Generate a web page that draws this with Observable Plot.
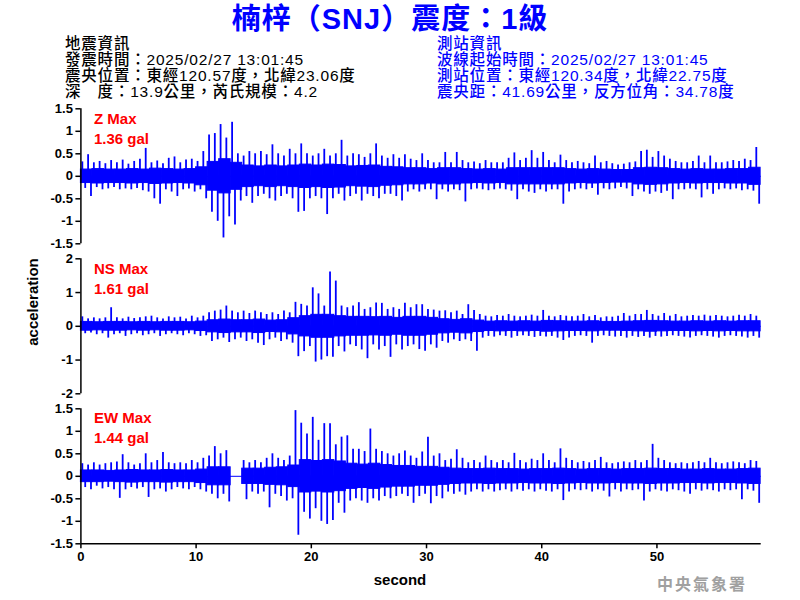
<!DOCTYPE html>
<html><head><meta charset="utf-8">
<script src="https://cdn.jsdelivr.net/npm/d3@7"></script>
<script src="https://cdn.jsdelivr.net/npm/@observablehq/plot@0.6"></script>
<style>
body{margin:0;background:#fff;}
#wrap{position:relative;width:800px;height:600px;overflow:hidden;font-family:"Liberation Sans","Noto Sans CJK TC",sans-serif;}
.t{position:absolute;white-space:nowrap;}
.h{position:absolute;white-space:nowrap;font-size:15.5px;line-height:16px;height:16px;letter-spacing:0.8px;font-weight:500;}
.panel{position:absolute;left:0;}
</style></head><body>
<div id="wrap">
<div class="t" style="left:0;width:780px;top:3px;height:32px;line-height:32px;text-align:center;font-size:29px;letter-spacing:1px;font-weight:bold;color:#0000ff;">楠梓（SNJ）震度：1級</div>
<div class="h" style="left:65px;top:36px;">地震資訊</div>
<div class="h" style="left:65px;top:52px;">發震時間：2025/02/27 13:01:45</div>
<div class="h" style="left:65px;top:68px;">震央位置：東經120.57度，北緯23.06度</div>
<div class="h" style="left:65px;top:84px;">深　度：13.9公里，芮氏規模：4.2</div>
<div class="h" style="left:437px;top:36px;color:#0000ff;">測站資訊</div>
<div class="h" style="left:437px;top:52px;color:#0000ff;">波線起始時間：2025/02/27 13:01:45</div>
<div class="h" style="left:437px;top:68px;color:#0000ff;">測站位置：東經120.34度，北緯22.75度</div>
<div class="h" style="left:437px;top:84px;color:#0000ff;">震央距：41.69公里，反方位角：34.78度</div>
<div class="t" style="left:32px;top:302px;font-size:15px;font-weight:bold;transform:translate(-50%,-50%) rotate(-90deg);">acceleration</div>
<div class="t" style="left:400px;top:571px;transform:translateX(-50%);font-size:15px;font-weight:bold;">second</div>
<div class="t" style="left:657px;top:571px;font-size:16px;font-weight:bold;color:#a0a0a0;letter-spacing:2px;font-family:'Noto Sans CJK TC',serif;">中央氣象署</div>
<div id="p0" class="panel" style="top:100px"></div>
<div id="p1" class="panel" style="top:250px"></div>
<div id="p2" class="panel" style="top:400px"></div>
<div class="t" style="left:94px;top:109px;font-size:15px;font-weight:bold;color:#ff0000;line-height:20px;">Z Max<br>1.36 gal</div>
<div class="t" style="left:94px;top:259px;font-size:15px;font-weight:bold;color:#ff0000;line-height:20px;">NS Max<br>1.61 gal</div>
<div class="t" style="left:94px;top:408px;font-size:15px;font-weight:bold;color:#ff0000;line-height:20px;">EW Max<br>1.44 gal</div>
</div>
<script>
// peak readings per 0.5 s bin (upper peak, lower peak), in gal
const binSeconds = 0.5;
const zHi = [0.32,0.48,0.3,0.33,0.28,0.35,0.3,0.36,0.27,0.33,0.38,0.62,0.3,0.34,0.28,0.4,0.43,0.3,0.36,0.38,0.33,
0.55,0.92,0.95,1.15,0.85,1.2,0.5,0.45,0.55,0.5,0.55,0.48,0.7,0.5,0.45,0.6,0.5,0.72,0.5,0.45,0.5,0.6,0.45,0.5,0.8,0.45,0.5,0.48,0.42,0.5,0.72,0.45,0.4,0.48,0.4,0.48,0.38,0.35,0.5,
0.35,0.3,0.3,0.53,0.3,0.53,0.35,0.3,0.32,0.28,0.35,0.3,0.3,0.3,0.4,0.52,0.35,0.4,0.57,0.4,0.53,0.35,0.3,0.47,0.35,0.3,0.33,0.3,0.28,0.45,0.3,0.33,0.28,0.25,0.27,0.3,0.32,0.55,0.58,0.42,0.55,0.45,0.38,0.33,0.3,0.3,0.33,0.45,0.3,0.45,0.3,0.3,0.32,0.35,0.33,0.38,0.35,0.64];
const zLo = [-0.27,-0.45,-0.25,-0.3,-0.28,-0.25,-0.3,-0.28,-0.3,-0.27,-0.32,-0.35,-0.5,-0.62,-0.3,-0.35,-0.45,-0.3,-0.28,-0.35,-0.3,
-0.5,-0.8,-1.0,-1.37,-0.9,-1.08,-0.55,-0.45,-0.6,-0.45,-0.4,-0.5,-0.55,-0.45,-0.4,-0.5,-0.8,-0.78,-0.5,-0.45,-0.5,-0.85,-0.5,-0.4,-0.55,-0.45,-0.4,-0.55,-0.4,-0.45,-0.5,-0.4,-0.4,-0.45,-0.55,-0.35,-0.3,-0.35,-0.3,
-0.3,-0.52,-0.3,-0.35,-0.3,-0.32,-0.57,-0.3,-0.28,-0.3,-0.32,-0.3,-0.28,-0.3,-0.33,-0.52,-0.3,-0.35,-0.38,-0.3,-0.35,-0.3,-0.3,-0.62,-0.35,-0.3,-0.28,-0.3,-0.27,-0.42,-0.28,-0.3,-0.28,-0.25,-0.28,-0.45,-0.3,-0.35,-0.4,-0.35,-0.38,-0.33,-0.52,-0.3,-0.3,-0.28,-0.3,-0.48,-0.3,-0.4,-0.3,-0.28,-0.3,-0.28,-0.32,-0.3,-0.33,-0.62];
const nsHi = [0.28,0.22,0.25,0.22,0.25,0.55,0.25,0.22,0.27,0.23,0.25,0.28,0.3,0.25,0.22,0.28,0.25,0.27,0.22,0.3,0.25,0.3,
0.4,0.45,0.48,0.6,0.45,0.4,0.45,0.38,0.45,0.4,0.35,0.4,0.35,0.45,0.4,0.71,0.65,0.6,1.14,0.96,0.6,1.61,1.34,0.6,0.55,0.6,0.7,0.5,0.55,0.69,0.68,0.5,0.55,0.5,0.68,0.55,0.64,0.64,
0.5,0.48,0.45,0.46,0.4,0.45,0.35,0.64,0.47,0.35,0.3,0.28,0.32,0.3,0.35,0.3,0.28,0.3,0.33,0.3,0.47,0.3,0.28,0.32,0.3,0.28,0.3,0.35,0.28,0.32,0.25,0.28,0.27,0.3,0.38,0.3,0.35,0.35,0.47,0.35,0.3,0.38,0.3,0.35,0.28,0.3,0.32,0.3,0.33,0.3,0.32,0.3,0.28,0.3,0.33,0.3,0.35,0.3];
const nsLo = [-0.22,-0.2,-0.25,-0.22,-0.35,-0.25,-0.22,-0.3,-0.25,-0.22,-0.28,-0.25,-0.22,-0.3,-0.25,-0.22,-0.25,-0.28,-0.22,-0.25,-0.3,-0.28,
-0.45,-0.4,-0.35,-0.48,-0.4,-0.35,-0.45,-0.4,-0.5,-0.57,-0.4,-0.35,-0.45,-0.4,-0.5,-0.9,-0.75,-0.6,-1.06,-1.0,-0.9,-0.92,-0.6,-0.76,-0.55,-0.6,-0.7,-0.96,-0.55,-0.7,-0.6,-0.92,-0.55,-0.7,-0.6,-0.55,-0.69,-0.74,
-0.55,-0.65,-0.45,-0.5,-0.4,-0.45,-0.4,-0.45,-0.74,-0.35,-0.3,-0.32,-0.28,-0.3,-0.35,-0.3,-0.28,-0.3,-0.33,-0.3,-0.32,-0.3,-0.35,-0.42,-0.35,-0.3,-0.28,-0.3,-0.5,-0.3,-0.28,-0.3,-0.32,-0.3,-0.35,-0.3,-0.33,-0.3,-0.35,-0.3,-0.32,-0.3,-0.28,-0.3,-0.32,-0.35,-0.3,-0.28,-0.3,-0.32,-0.35,-0.3,-0.28,-0.3,-0.32,-0.35,-0.3,-0.35];
const ewHi = [0.28,0.25,0.3,0.25,0.28,0.3,0.32,0.48,0.3,0.25,0.28,0.5,0.3,0.35,0.53,0.3,0.28,0.3,0.28,0.35,0.3,0.4,0.45,0.66,0.5,0.57,0,0,
0.35,0.3,0.35,0.3,0.4,0.5,0.4,0.35,0.45,1.46,1.18,0.94,1.31,0.8,1.17,1.17,0.7,0.87,0.9,0.6,0.6,0.55,1.05,0.6,0.55,0.5,0.45,0.5,0.56,0.45,0.4,0.54,
0.87,0.45,0.5,0.35,0.38,0.59,0.4,0.3,0.35,0.3,0.45,0.35,0.3,0.35,0.3,0.51,0.35,0.3,0.38,0.35,0.5,0.35,0.3,0.61,0.4,0.35,0.3,0.33,0.3,0.35,0.42,0.3,0.28,0.3,0.32,0.3,0.35,0.3,0.35,0.71,0.4,0.35,0.3,0.28,0.3,0.28,0.3,0.33,0.3,0.4,0.3,0.28,0.3,0.32,0.3,0.28,0.35,0.33];
const ewLo = [-0.25,-0.3,-0.22,-0.28,-0.25,-0.3,-0.49,-0.3,-0.25,-0.28,-0.25,-0.47,-0.3,-0.28,-0.35,-0.3,-0.25,-0.28,-0.3,-0.25,-0.3,-0.35,-0.4,-0.5,-0.4,-0.57,0,0,
-0.52,-0.35,-0.4,-0.35,-0.7,-0.4,-0.45,-0.55,-0.5,-1.31,-0.8,-0.95,-0.72,-1.0,-1.07,-0.98,-0.6,-0.82,-0.55,-0.5,-0.55,-0.6,-0.5,-0.55,-0.45,-0.5,-0.45,-0.4,-0.45,-0.6,-0.45,-0.4,
-0.61,-0.45,-0.5,-0.35,-0.4,-0.35,-0.42,-0.35,-0.3,-0.35,-0.3,-0.35,-0.32,-0.3,-0.35,-0.3,-0.33,-0.3,-0.35,-0.3,-0.33,-0.35,-0.3,-0.54,-0.35,-0.3,-0.32,-0.3,-0.35,-0.3,-0.33,-0.46,-0.3,-0.35,-0.3,-0.32,-0.3,-0.55,-0.35,-0.3,-0.33,-0.35,-0.3,-0.32,-0.35,-0.4,-0.3,-0.33,-0.3,-0.32,-0.35,-0.3,-0.32,-0.3,-0.52,-0.3,-0.33,-0.6];
// dense core amplitude per 1 s (the solid part of the trace), in gal
const coreSeconds = 1;
const zCore = [0.15,0.16,0.15,0.15,0.16,0.15,0.17,0.16,0.15,0.16,0.2,0.32,0.38,0.3,0.24,0.22,0.24,0.22,0.24,0.26,0.24,0.26,0.25,0.22,0.23,0.24,0.21,0.2,0.18,0.18,
0.16,0.18,0.18,0.16,0.15,0.16,0.15,0.18,0.18,0.18,0.18,0.18,0.16,0.15,0.16,0.15,0.14,0.14,0.18,0.19,0.18,0.16,0.15,0.16,0.15,0.15,0.16,0.16,0.19];
const nsCore = [0.13,0.12,0.13,0.13,0.12,0.13,0.12,0.13,0.13,0.12,0.14,0.18,0.2,0.18,0.18,0.2,0.17,0.18,0.24,0.3,0.34,0.34,0.3,0.28,0.28,0.27,0.28,0.25,0.28,0.28,
0.25,0.21,0.19,0.21,0.17,0.14,0.15,0.14,0.15,0.14,0.16,0.15,0.14,0.14,0.15,0.13,0.13,0.14,0.15,0.16,0.15,0.14,0.14,0.15,0.14,0.15,0.14,0.15,0.15];
const ewCore = [0.13,0.13,0.12,0.13,0.14,0.13,0.13,0.14,0.13,0.13,0.15,0.2,0.2,0,0.17,0.17,0.19,0.2,0.24,0.36,0.34,0.36,0.33,0.28,0.26,0.28,0.25,0.23,0.23,0.21,
0.21,0.19,0.17,0.16,0.16,0.17,0.16,0.16,0.15,0.16,0.16,0.17,0.16,0.15,0.16,0.16,0.15,0.16,0.16,0.17,0.16,0.16,0.15,0.15,0.16,0.15,0.15,0.16,0.17];
const xTicks = [0,10,20,30,40,50];
const duration = 59.05;
const panels = [
  {id:"p0", hi:zHi, lo:zLo, core:zCore, domain:[-1.5,1.5], ticks:[-1.5,-1,-0.5,0,0.5,1,1.5]},
  {id:"p1", hi:nsHi, lo:nsLo, core:nsCore, domain:[-2,2], ticks:[-2,-1,0,1,2]},
  {id:"p2", hi:ewHi, lo:ewLo, core:ewCore, domain:[-1.5,1.5], ticks:[-1.5,-1,-0.5,0,0.5,1,1.5]}
];
function spikes(hi, lo){
  const s = [];
  hi.forEach((h,i)=>{
    s.push({t:i*binSeconds+binSeconds*0.25, a:0, b:h});
    s.push({t:i*binSeconds+binSeconds*0.75, a:lo[i], b:0});
  });
  return s;
}
function coreRows(core){
  return core.map((c,i)=>({t1:i*coreSeconds, t2:Math.min(duration,(i+1)*coreSeconds), lo:-c, hi:c}));
}
panels.forEach((p,k)=>{
  const last = k===2;
  const marks = [
    Plot.ruleY([0], {stroke:"#0000ff", strokeWidth:1}),
    Plot.rect(coreRows(p.core), {x1:"t1", x2:"t2", y1:"lo", y2:"hi", fill:"#0000ff", stroke:"#0000ff", strokeWidth:1}),
    Plot.ruleX(spikes(p.hi,p.lo), {x:"t", y1:"a", y2:"b", stroke:"#0000ff", strokeWidth:1.8, strokeLinecap:"butt"}),
    Plot.ruleX([0], {stroke:"#000", strokeWidth:1.5}),
    Plot.axisY({ticks:p.ticks, tickSize:5, tickPadding:3, tickFormat:d=>String(d), label:null, strokeWidth:1.5})
  ];
  if(last){
    marks.push(Plot.ruleY([p.domain[0]], {stroke:"#000", strokeWidth:1.5}));
    marks.push(Plot.axisX({ticks:xTicks, tickSize:5, tickPadding:3, tickFormat:d=>String(d), label:null, strokeWidth:1.5}));
  } else {
    marks.push(Plot.axisX({ticks:[], label:null}));
  }
  const chart = Plot.plot({
    width:800, height: last?200:150,
    marginLeft:80.4, marginRight:39.3, marginTop:8.3, marginBottom: last?56.7:6.7,
    x:{domain:[0,duration]},
    y:{domain:p.domain},
    style:{fontFamily:"Liberation Sans, Arial, sans-serif", fontSize:"13px", fontWeight:"bold", color:"#000", background:"transparent", overflow:"visible"},
    marks
  });
  document.getElementById(p.id).appendChild(chart);
});
</script>
</body></html>
